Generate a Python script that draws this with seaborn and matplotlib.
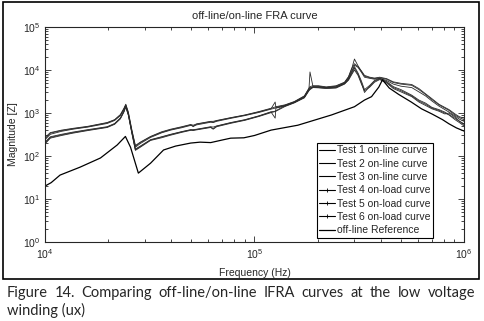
import numpy as np
import pandas as pd
import matplotlib
matplotlib.use("Agg")
import matplotlib.pyplot as plt
from matplotlib.patches import Rectangle
from matplotlib.lines import Line2D
import seaborn as sns

# frequency grid of the test curves (Hz)
f_test = [10000, 10600, 12000, 13600, 16000, 19800, 21500, 22900, 23800, 24300,
          25000, 26000, 27000, 28500, 31900, 36000, 39800, 45000, 49600, 51000,
          53000, 61800, 63500, 66000, 77000, 90000, 105000, 120000, 125500, 126500,
          140000, 155000, 173000, 182000, 184000, 190000, 202000, 220000, 245000, 269000,
          281000, 290000, 300000, 312000, 324000, 335000, 355000, 374000, 396000, 427000,
          460000, 500000, 563000, 609000, 655000, 703000, 759000, 810000, 848000, 906000,
          950000, 1000000]

# on-line tests
test1 = [250, 340, 390, 430, 480, 590, 690, 900, 1250, 1550,
         1000, 380, 170, 205, 280, 355, 410, 470, 530, 480,
         550, 630, 610, 660, 770, 890, 1060, 1260, 1800, 1350,
         1520, 1820, 2450, 3700, 9000, 4200, 4200, 3950, 4200, 5100,
         6800, 10000, 18000, 12500, 9200, 7200, 6600, 6300, 6600, 6100,
         5100, 4700, 4400, 3500, 2700, 2050, 1550, 1300, 1150, 900,
         780, 700]
test2 = [240, 320, 375, 420, 470, 570, 670, 870, 1200, 1500,
         950, 360, 160, 195, 270, 345, 400, 455, 515, 500,
         530, 610, 600, 640, 750, 870, 1030, 1230, 1300, 1320,
         1480, 1780, 2380, 3600, 3900, 4000, 4100, 3850, 4050, 4900,
         6400, 9000, 13000, 11500, 8800, 6800, 6400, 6100, 6400, 5700,
         4700, 4200, 3900, 3100, 2500, 1900, 1450, 1200, 1050, 850,
         720, 640]
test3 = [270, 350, 400, 440, 490, 600, 700, 920, 1280, 1600,
         1050, 400, 175, 210, 285, 365, 420, 480, 540, 520,
         560, 640, 640, 670, 780, 900, 1080, 1290, 1380, 1400,
         1550, 1850, 2500, 3800, 4100, 4300, 4300, 4050, 4300, 5200,
         7000, 10500, 14000, 12000, 9500, 7500, 6800, 6500, 6800, 6300,
         5300, 4900, 4600, 3700, 2800, 2150, 1600, 1350, 1200, 950,
         820, 760]
# on-load tests
test4 = [200, 270, 310, 350, 400, 470, 560, 750, 1080, 1420,
         900, 340, 140, 165, 235, 275, 315, 365, 405, 390,
         415, 470, 430, 495, 590, 690, 850, 1050, 760, 1300,
         1450, 1750, 2300, 3400, 3600, 4000, 3900, 3800, 3900, 4800,
         6000, 8000, 11000, 8000, 5000, 3000, 4200, 5500, 6200, 5200,
         3900, 3300, 2500, 1900, 1600, 1300, 1150, 1000, 900, 700,
         600, 500]
test5 = [190, 260, 300, 340, 390, 460, 545, 730, 1050, 1380,
         880, 330, 135, 160, 230, 265, 305, 355, 395, 400,
         405, 460, 420, 480, 575, 675, 830, 1020, 1080, 1100,
         1420, 1720, 2250, 3300, 3500, 3900, 3850, 3700, 3800, 4700,
         5800, 7600, 10000, 7500, 4700, 3300, 4000, 5200, 6000, 5000,
         3700, 3100, 2400, 1800, 1500, 1250, 1100, 950, 1000, 800,
         650, 560]
test6 = [210, 280, 320, 360, 410, 480, 570, 770, 1100, 1450,
         920, 350, 145, 170, 240, 280, 320, 370, 410, 410,
         420, 480, 470, 500, 600, 700, 860, 1070, 1100, 1130,
         1480, 1780, 2350, 3500, 3700, 4100, 4000, 3900, 4000, 4900,
         6200, 8500, 12000, 8500, 5500, 3500, 4400, 5700, 6400, 5400,
         4100, 3500, 2600, 2000, 1700, 1350, 1200, 1050, 920, 750,
         640, 540]

# off-line reference
f_ref = [10000, 10700, 11800, 14700, 18400, 22100, 24200, 25600, 27900, 31900,
         36800, 42000, 49600, 55000, 61800, 70000, 77000, 89000, 100000, 120000,
         161000, 233000, 300000, 335000, 362000, 392000, 408000, 440000, 488000, 560000,
         627000, 703000, 790000, 848000, 920000, 1000000]
z_ref = [20, 24, 36, 55, 90, 180, 285, 160, 40, 68,
         138, 170, 200, 210, 205, 235, 260, 265, 300, 400,
         520, 900, 1400, 2000, 2400, 4000, 5900, 3800, 2700, 1800,
         1250, 950, 700, 560, 450, 380]

labels = ["Test 1 on-line curve", "Test 2 on-line curve", "Test 3 on-line curve",
          "Test 4 on-load curve", "Test 5 on-load curve", "Test 6 on-load curve"]

caption1 = "Figure 14. Comparing off-line/on-line IFRA curves at the low voltage"
caption2 = "winding (ux)"

W, H = 484, 321
sns.set_style("ticks")
plt.rcParams['font.family'] = ['Liberation Sans', 'DejaVu Sans']
fig = plt.figure(figsize=(W / 100, H / 100), dpi=100)
ax = fig.add_axes([45 / W, 1 - 242 / H, (464 - 45) / W, (242 - 27) / H])
ax.set_xscale('log')
ax.set_yscale('log')

test_col = '#2b2b2b'
for vals in [test1, test2, test3, test4, test5, test6]:
    d = pd.DataFrame({"f": f_test, "z": vals})
    sns.lineplot(data=d, x="f", y="z", ax=ax, color=test_col, lw=0.6, legend=False)
dref = pd.DataFrame({"f": f_ref, "z": z_ref})
sns.lineplot(data=dref, x="f", y="z", ax=ax, color='black', lw=0.9, legend=False)

ax.set_xlim(1e4, 1e6)
ax.set_ylim(1, 1e5)
ax.tick_params(which='both', direction='in', top=True, right=True, labelsize=7.5, width=0.6)
ax.tick_params(which='major', length=4)
ax.tick_params(which='minor', length=2)
for s in ax.spines.values():
    s.set_linewidth(0.8)
ax.set_title("off-line/on-line FRA curve", fontsize=8, pad=6)
ax.set_xlabel("Frequency (Hz)", fontsize=7.5)
ax.set_ylabel("Magnitude [Z]", fontsize=7.5)
ax.xaxis.set_label_coords(0.5, -0.121)
ax.yaxis.set_label_coords(-0.064, 0.5)

handles = []
for i, lab in enumerate(labels):
    if i < 3:
        handles.append(Line2D([], [], color='black', lw=0.8, label=lab))
    else:
        handles.append(Line2D([], [], color='black', lw=0.8, marker='+', markersize=3,
                              markeredgewidth=0.6, label=lab))
handles.append(Line2D([], [], color='black', lw=0.9, label="off-line Reference"))

leg = ax.legend(handles=handles, loc='lower right', bbox_to_anchor=(0.926, 0.019), fontsize=7.5,
                frameon=True, fancybox=False, edgecolor='black', framealpha=1,
                handlelength=1.5, handletextpad=0.2, labelspacing=0.32,
                borderpad=0.25, borderaxespad=0)
leg.get_frame().set_linewidth(0.8)

# outer frame around the figure
fig.patches.append(Rectangle((3 / W, 1 - 279 / H), (479 - 3) / W, (279 - 2) / H,
                             transform=fig.transFigure, fill=False, lw=1.2, edgecolor='black'))

# justified caption
words = caption1.split()
texts = [fig.text(0, 1 - 293 / H, w, fontsize=10.5, family='Lato', va='center') for w in words]
renderer = fig.canvas.get_renderer()
widths = [t.get_window_extent(renderer).width for t in texts]
gap = (475 - 7 - sum(widths)) / (len(words) - 1)
x = 7
for t, w in zip(texts, widths):
    t.set_x(x / W)
    x += w + gap
fig.text(7 / W, 1 - 310 / H, caption2, fontsize=10.5, family='Lato', va='center')

fig.savefig("out.png", dpi=100)
